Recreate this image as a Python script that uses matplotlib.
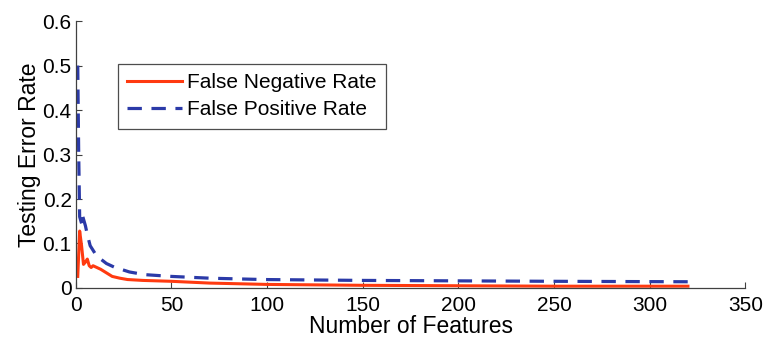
import numpy as np
import matplotlib.pyplot as plt

plt.rcParams['font.family'] = ['Liberation Sans', 'DejaVu Sans']

# error rates vs. number of selected features
fn_features = [1, 2, 3, 4, 5, 6, 7, 8, 9, 11, 13, 16, 19, 23, 27, 35, 50, 70, 100, 150, 200, 250, 320]
fn_rate = [0.026, 0.128, 0.095, 0.053, 0.058, 0.065, 0.050, 0.046, 0.050, 0.046, 0.042, 0.034, 0.026,
           0.022, 0.019, 0.017, 0.015, 0.011, 0.008, 0.006, 0.005, 0.004, 0.004]

fp_features = [1, 1.5, 2, 3, 3.5, 4, 5, 6, 7.5, 10, 13, 16, 20, 28, 36, 50, 70, 98, 150, 200, 250, 320]
fp_rate = [0.50, 0.30, 0.16, 0.145, 0.163, 0.155, 0.140, 0.120, 0.095, 0.078, 0.065, 0.055, 0.047,
           0.036, 0.030, 0.026, 0.022, 0.019, 0.017, 0.016, 0.015, 0.014]

fig = plt.figure(figsize=(7.66, 3.40), dpi=100)
ax = fig.add_axes([0.099, 0.153, 0.874, 0.785])

ax.plot(fn_features, fn_rate, color='#ff3a10', lw=2.2, label='False Negative Rate')
ax.plot(fp_features, fp_rate, color='#2b3aa8', lw=2.3, ls=(0, (4.5, 3)), label='False Positive Rate')

ax.set_xlim(0, 350)
ax.set_ylim(0, 0.6)
ax.set_xticks(np.arange(0, 351, 50))
ax.set_yticks(np.arange(0, 0.61, 0.1))
ax.set_yticklabels(['0', '0.1', '0.2', '0.3', '0.4', '0.5', '0.6'])
ax.set_xlabel('Number of Features', fontsize=16.5, labelpad=0)
ax.set_ylabel('Testing Error Rate', fontsize=16.5, labelpad=1)

for side in ('top', 'right'):
    ax.spines[side].set_visible(False)
for side in ('left', 'bottom'):
    ax.spines[side].set_color('#404040')
    ax.spines[side].set_linewidth(0.9)
ax.tick_params(direction='in', length=4, width=0.8, color='#404040', labelsize=15)
ax.tick_params(axis='x', pad=6)
ax.tick_params(axis='y', pad=3)

leg = ax.legend(loc='upper left', bbox_to_anchor=(0.063, 0.84), fontsize=15, frameon=True,
                fancybox=False, borderaxespad=0, handlelength=2.6, handletextpad=0.25,
                borderpad=0.45, labelspacing=0.4)
leg.get_frame().set_edgecolor('#202020')
leg.get_frame().set_linewidth(0.9)

fig.savefig('out.png', dpi=100)
